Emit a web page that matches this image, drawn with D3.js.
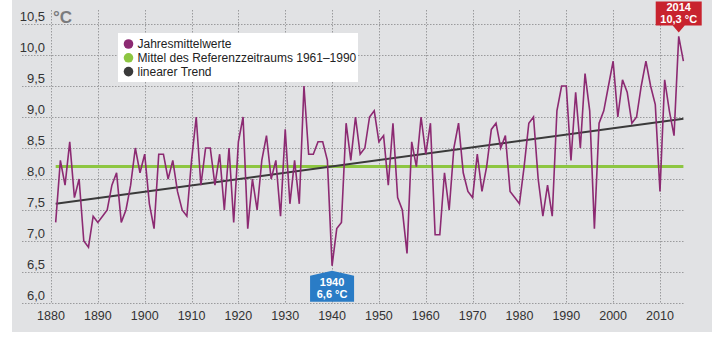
<!DOCTYPE html>
<html>
<head>
<meta charset="utf-8">
<script src="https://cdn.jsdelivr.net/npm/d3@7"></script>
<style>
  body { margin: 0; background: #fff; }
  svg { display: block; font-family: "Liberation Sans", "Noto Sans", sans-serif; }
</style>
</head>
<body>
<div id="chart"></div>
<script>
// Annual mean temperature in Germany, 1881-2015 (°C)
const years = d3.range(1881, 2016);
const temps = [
  7.3, 8.3, 7.9, 8.6, 7.7, 8.0, 7.0, 6.9, 7.4, 7.3,   // 1881-1890
  7.4, 7.5, 7.9, 8.1, 7.3, 7.5, 7.9, 8.5, 8.1, 8.4,   // 1891-1900
  7.6, 7.2, 8.4, 8.4, 8.0, 8.3, 7.8, 7.5, 7.4, 8.3,   // 1901-1910
  9.0, 7.9, 8.5, 8.5, 7.9, 8.4, 7.5, 8.5, 7.3, 8.6,   // 1911-1920
  9.0, 7.2, 8.0, 7.5, 8.3, 8.7, 8.0, 8.3, 7.4, 8.8,   // 1921-1930
  7.6, 8.3, 7.6, 9.5, 8.4, 8.4, 8.6, 8.6, 8.3, 6.6,   // 1931-1940
  7.2, 7.3, 8.9, 8.3, 9.0, 8.4, 8.5, 9.0, 9.1, 8.6,   // 1941-1950
  8.7, 7.9, 8.9, 7.7, 7.5, 6.8, 8.6, 8.2, 9.0, 8.4,   // 1951-1960
  8.9, 7.1, 7.1, 8.1, 7.5, 8.5, 8.9, 8.1, 7.8, 7.7,   // 1961-1970
  8.4, 7.8, 8.2, 8.8, 8.9, 8.5, 8.7, 7.8, 7.7, 7.6,   // 1971-1980
  8.2, 8.9, 9.0, 8.0, 7.4, 7.9, 7.4, 9.1, 9.5, 9.5,   // 1981-1990
  8.3, 9.4, 8.5, 9.7, 9.1, 7.2, 8.9, 9.1, 9.5, 9.9,   // 1991-2000
  9.0, 9.6, 9.4, 8.9, 9.0, 9.5, 9.9, 9.5, 9.2, 7.8,   // 2001-2010
  9.6, 9.1, 8.7, 10.3, 9.9                            // 2011-2015
];

// Mean of the reference period 1961-1990
const refMean = 8.2;
const refYears = [1881, 2015];

// Linear trend, start and end value
const trendYears = [1881, 2015];
const trendValues = [7.6, 8.97];

const yTicks = [6.0, 6.5, 7.0, 7.5, 8.0, 8.5, 9.0, 9.5, 10.0, 10.5];
const xTicks = [1880, 1890, 1900, 1910, 1920, 1930, 1940, 1950, 1960, 1970, 1980, 1990, 2000, 2010];

const legendLabels = ["Jahresmittelwerte", "Mittel des Referenzzeitraums 1961\u20131990", "linearer Trend"];

// Highlighted years: coldest and warmest
const callouts = [
  { year: 1940, value: 6.6, color: "#2a7cc6", below: true },
  { year: 2014, value: 10.3, color: "#c8232e", below: false }
];

const fmt = v => d3.format(".1f")(v).replace(".", ",");

const width = 720, height = 340;

const colors = {
  line: "#8c2a72",
  ref: "#8dc641",
  trend: "#3a3a3a",
  grid: "#9a9b9d",
  panel: "#e1e2e4",
  text: "#333333"
};

const svg = d3.select("#chart")
  .append("svg")
  .attr("width", width)
  .attr("height", height);

svg.append("rect")
  .attr("x", 12)
  .attr("y", 0)
  .attr("width", 700)
  .attr("height", 332)
  .attr("fill", colors.panel);

const x = d3.scaleLinear()
  .domain([1880, 2015])
  .range([51, 683.4]);

const y = d3.scaleLinear()
  .domain([6, 10.5])
  .range([303, 24]);

// Grid
const grid = svg.append("g")
  .attr("stroke", colors.grid)
  .attr("stroke-width", 1)
  .attr("stroke-dasharray", "1.5,1.5");

grid.selectAll(".hgrid")
  .data(yTicks)
  .join("line")
  .attr("class", "hgrid")
  .attr("x1", 22)
  .attr("x2", 684)
  .attr("y1", d => Math.round(y(d)) + 0.5)
  .attr("y2", d => Math.round(y(d)) + 0.5);

grid.selectAll(".vgrid")
  .data(xTicks)
  .join("line")
  .attr("class", "vgrid")
  .attr("x1", d => Math.round(x(d)) + 0.5)
  .attr("x2", d => Math.round(x(d)) + 0.5)
  .attr("y1", 10)
  .attr("y2", 303);

// Y tick labels sit just above their grid line
svg.append("g")
  .selectAll("text")
  .data(yTicks)
  .join("text")
  .attr("x", 45)
  .attr("y", d => y(d) - 3)
  .attr("text-anchor", "end")
  .attr("font-size", "13px")
  .attr("fill", colors.text)
  .text(d => fmt(d));

svg.append("g")
  .selectAll("text")
  .data(xTicks)
  .join("text")
  .attr("x", d => x(d))
  .attr("y", 320)
  .attr("text-anchor", "middle")
  .attr("font-size", "12.5px")
  .attr("fill", colors.text)
  .text(d => d);

svg.append("text")
  .attr("x", 53)
  .attr("y", 23)
  .attr("font-size", "17px")
  .attr("font-weight", "bold")
  .attr("fill", "#7a7b7d")
  .text("°C");

// Reference mean
svg.append("line")
  .attr("x1", x(refYears[0]))
  .attr("x2", x(refYears[1]))
  .attr("y1", y(refMean))
  .attr("y2", y(refMean))
  .attr("stroke", colors.ref)
  .attr("stroke-width", 3);

// Trend
svg.append("line")
  .attr("x1", x(trendYears[0]))
  .attr("x2", x(trendYears[1]))
  .attr("y1", y(trendValues[0]))
  .attr("y2", y(trendValues[1]))
  .attr("stroke", colors.trend)
  .attr("stroke-width", 2);

// Annual means
svg.append("path")
  .datum(years.map((yr, i) => [yr, temps[i]]))
  .attr("fill", "none")
  .attr("stroke", colors.line)
  .attr("stroke-width", 1.6)
  .attr("stroke-linejoin", "miter")
  .attr("d", d3.line()
    .x(d => x(d[0]))
    .y(d => y(d[1])));

// Legend
const legend = svg.append("g")
  .attr("transform", "translate(118,33)");

legend.append("rect")
  .attr("width", 240)
  .attr("height", 49)
  .attr("fill", "#fff");

const legendColors = [colors.line, colors.ref, colors.trend];

legend.selectAll("circle")
  .data(legendLabels)
  .join("circle")
  .attr("cx", 10.5)
  .attr("cy", (d, i) => 11 + i * 13.8)
  .attr("r", 4.8)
  .attr("fill", (d, i) => legendColors[i]);

legend.selectAll("text")
  .data(legendLabels)
  .join("text")
  .attr("x", 19.5)
  .attr("y", (d, i) => 15.3 + i * 13.8)
  .attr("font-size", "12px")
  .attr("fill", "#222")
  .text(d => d);

// Callouts for the extreme years
callouts.forEach(c => {
  const cx = x(c.year);
  const py = y(c.value);
  const w = 44;
  const g = svg.append("g");
  let pts, ty;
  if (c.below) {
    const top = py + 5;
    pts = [[cx, top], [cx + w / 2, top + 5], [cx + w / 2, top + 31], [cx - w / 2, top + 31], [cx - w / 2, top + 5]];
    ty = top + 15.5;
  } else {
    const tip = py - 4;
    pts = [[cx - 23, tip - 31], [cx + 23, tip - 31], [cx + 23, tip - 7], [cx + 6, tip - 7], [cx, tip], [cx - 6, tip - 7], [cx - 23, tip - 7]];
    ty = tip - 21;
  }
  g.append("polygon")
    .attr("points", pts.map(p => p.join(",")).join(" "))
    .attr("fill", c.color);
  g.append("text")
    .attr("x", cx)
    .attr("y", ty)
    .attr("text-anchor", "middle")
    .attr("font-size", "11px")
    .attr("font-weight", "bold")
    .attr("fill", "#fff")
    .text(c.year);
  g.append("text")
    .attr("x", cx)
    .attr("y", ty + 12)
    .attr("text-anchor", "middle")
    .attr("font-size", "11px")
    .attr("font-weight", "bold")
    .attr("fill", "#fff")
    .text(fmt(c.value) + " °C");
});
</script>
</body>
</html>
